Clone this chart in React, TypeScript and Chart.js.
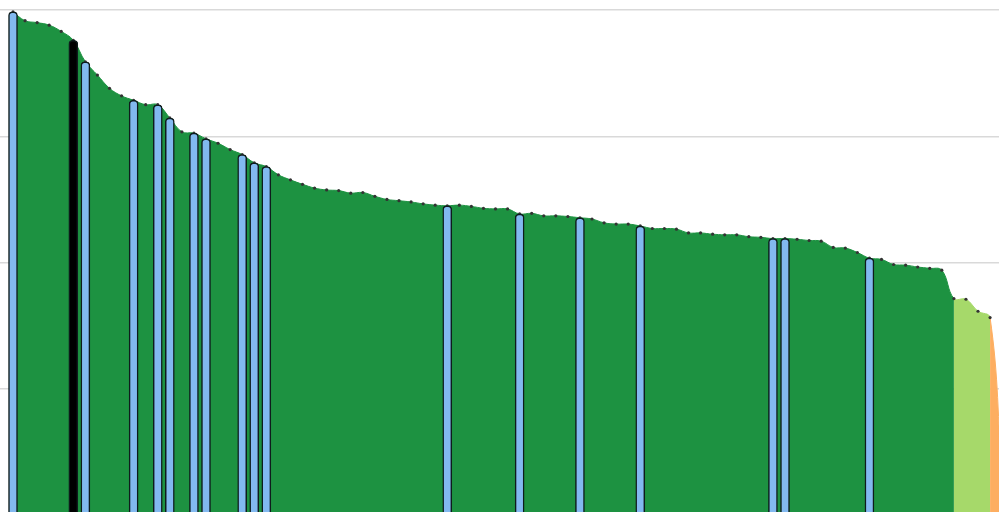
import React, { useEffect, useRef } from "react";
import { Chart, registerables } from "chart.js";

Chart.register(...registerables);

// Ranked values (one per position, left to right)
const values: number[] = [
  99.7, 98.3, 98.0, 97.6, 96.6, 95.2, 91.8, 89.7, 87.6, 86.4,
  85.7, 85.0, 85.0, 82.9, 80.7, 80.5, 79.6, 78.9, 77.9, 77.1,
  75.8, 75.2, 73.9, 73.1, 72.4, 71.8, 71.5, 71.4, 71.0, 71.1,
  70.5, 70.0, 69.8, 69.6, 69.3, 69.1, 69.0, 69.1, 68.9, 68.6,
  68.5, 68.5, 67.7, 67.8, 67.4, 67.4, 67.3, 67.1, 66.9, 66.3,
  66.1, 66.1, 65.8, 65.4, 65.4, 65.3, 64.7, 64.7, 64.5, 64.4,
  64.4, 64.1, 64.0, 63.8, 63.8, 63.7, 63.5, 63.4, 62.4, 62.3,
  61.6, 60.7, 60.5, 59.7, 59.6, 59.3, 59.1, 58.8, 54.3, 54.2,
  52.3, 51.3, 25.6,
];

// Highlighted positions drawn as bars
const blueHighlights: number[] = [0, 6, 10, 12, 13, 15, 16, 19, 20, 21, 36, 42, 47, 52, 63, 64, 71];
const blackHighlights: number[] = [5];

// Band boundaries (index where the fill colour changes)
const lightGreenFrom = 78;
const orangeFrom = 81;

// Horizontal grid values
const gridValues: number[] = [100, 80, 60, 40];

const GREEN = "#1d9241";
const LIGHT_GREEN = "#a6d96a";
const ORANGE = "#fdae61";
const BLUE = "#82b9f0";

export default function App() {
  const ref = useRef<HTMLCanvasElement>(null);

  useEffect(() => {
    if (!ref.current) return;
    const pts = values.map((v, i) => ({ x: i, y: v }));
    const bars = pts.filter(
      (p) => blueHighlights.includes(p.x) || blackHighlights.includes(p.x)
    );
    const bandColor = (i: number) =>
      i >= orangeFrom ? ORANGE : i >= lightGreenFrom ? LIGHT_GREEN : GREEN;

    const chart = new Chart(ref.current, {
      type: "line",
      data: {
        datasets: [
          {
            type: "bar",
            data: bars as any,
            backgroundColor: bars.map((p) =>
              blackHighlights.includes(p.x) ? "#000000" : BLUE
            ),
            borderColor: "#0e1c1c",
            borderWidth: 1.5,
            borderRadius: { topLeft: 4, topRight: 4, bottomLeft: 0, bottomRight: 0 },
            borderSkipped: "bottom",
            barThickness: 9,
            order: 0,
          } as any,
          {
            type: "line",
            data: pts as any,
            fill: "start",
            tension: 0.4,
            borderWidth: 1,
            borderColor: GREEN,
            backgroundColor: GREEN,
            pointRadius: 1.6,
            pointBackgroundColor: "#333333",
            pointBorderWidth: 0,
            segment: {
              backgroundColor: (ctx: any) => bandColor(ctx.p0DataIndex),
              borderColor: (ctx: any) => bandColor(ctx.p0DataIndex),
            },
            order: 1,
          } as any,
        ],
      },
      options: {
        responsive: false,
        animation: false,
        layout: { padding: 0, autoPadding: false },
        plugins: {
          legend: { display: false },
          tooltip: { enabled: false },
        },
        scales: {
          x: {
            type: "linear",
            min: -1.078,
            max: 81.74,
            offset: false,
            display: false,
          },
          y: {
            min: 20.51,
            max: 101.58,
            afterBuildTicks: (s: any) => {
              s.ticks = gridValues.map((v) => ({ value: v }));
            },
            afterFit: (s: any) => {
              s.width = 0;
            },
            ticks: { display: false, padding: 0 },
            border: { display: false },
            grid: { color: "#d9d9d9", lineWidth: 1.5, drawTicks: false },
          },
        },
      } as any,
    });
    return () => chart.destroy();
  }, []);

  return (
    <div
      style={{
        position: "fixed",
        left: 0,
        top: 0,
        width: 999,
        height: 512,
        background: "#ffffff",
        overflow: "hidden",
      }}
    >
      <canvas ref={ref} width={999} height={512} style={{ display: "block" }} />
    </div>
  );
}
